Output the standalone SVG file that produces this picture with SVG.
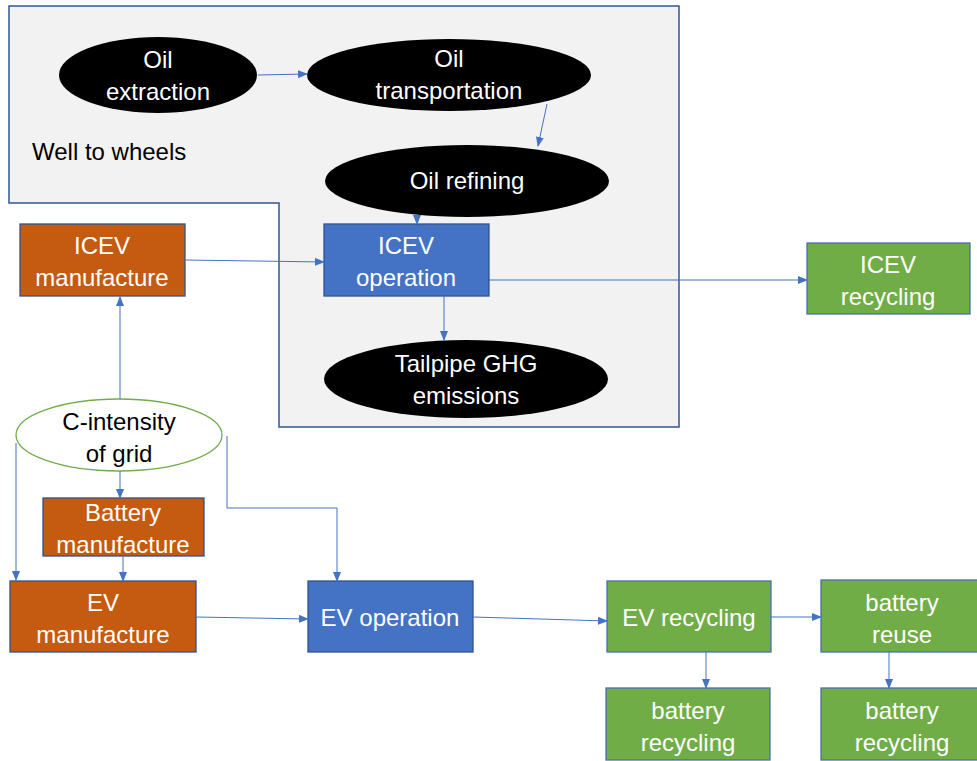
<svg xmlns="http://www.w3.org/2000/svg" width="977" height="761" viewBox="0 0 977 761">
<defs>
<marker id="ah" markerWidth="10" markerHeight="8" refX="9" refY="4" orient="auto" markerUnits="userSpaceOnUse">
<path d="M0,0 L10,4 L0,8 Z" fill="#4472c4"/>
</marker>
<style>
text{font-family:"Liberation Sans",Arial,sans-serif;font-size:24px;text-anchor:middle}
.w{fill:#ffffff}
.k{fill:#000000}
.orange{fill:#c55a11;stroke:#2f528f;stroke-width:1.3}
.blue{fill:#4472c4;stroke:#2f528f;stroke-width:1.3}
.green{fill:#70ad47;stroke:#4a6fb0;stroke-width:1.3}
.oval{fill:#000000}
.conn line,.conn polyline{stroke:#4472c4;stroke-width:1;fill:none;marker-end:url(#ah)}
</style>
</defs>
<rect width="977" height="761" fill="#ffffff"/>
<g id="well-to-wheels">
<polygon points="9,6 679,6 679,427 279,427 279,203 9,203" fill="#f2f2f2" stroke="#2f5597" stroke-width="1.5"/>
<text x="32" y="160" class="k" style="text-anchor:start">Well to wheels</text>
</g>
<g id="oil-extraction">
<ellipse cx="158" cy="75" rx="99" ry="38" class="oval"/>
<text x="158" y="68" class="w">Oil</text>
<text x="158" y="100" class="w">extraction</text>
</g>
<g id="oil-transportation">
<ellipse cx="449" cy="75" rx="142" ry="36" class="oval"/>
<text x="449" y="67" class="w">Oil</text>
<text x="449" y="99" class="w">transportation</text>
</g>
<g id="oil-refining">
<ellipse cx="467" cy="181" rx="142" ry="36" class="oval"/>
<text x="467" y="189" class="w">Oil refining</text>
</g>
<g id="tailpipe">
<ellipse cx="466" cy="379" rx="142" ry="39" class="oval"/>
<text x="466" y="372" class="w">Tailpipe GHG</text>
<text x="466" y="404" class="w">emissions</text>
</g>
<g id="icev-manufacture">
<rect x="20" y="224" width="165" height="72" class="orange"/>
<text x="102" y="254" class="w">ICEV</text>
<text x="102" y="286" class="w">manufacture</text>
</g>
<g id="icev-operation">
<rect x="324" y="224" width="165" height="72" class="blue"/>
<text x="406" y="254" class="w">ICEV</text>
<text x="406" y="286" class="w">operation</text>
</g>
<g id="icev-recycling">
<rect x="807" y="243" width="163" height="71" class="green"/>
<text x="888" y="273" class="w">ICEV</text>
<text x="888" y="305" class="w">recycling</text>
</g>
<g id="c-intensity">
<ellipse cx="119" cy="435" rx="103" ry="36" fill="#ffffff" stroke="#70ad47" stroke-width="1.3"/>
<text x="119" y="430" class="k">C-intensity</text>
<text x="119" y="462" class="k">of grid</text>
</g>
<g id="battery-manufacture">
<rect x="43" y="498" width="161" height="58" class="orange"/>
<text x="123" y="521" class="w">Battery</text>
<text x="123" y="553" class="w">manufacture</text>
</g>
<g id="ev-manufacture">
<rect x="10" y="581" width="186" height="71" class="orange"/>
<text x="103" y="611" class="w">EV</text>
<text x="103" y="643" class="w">manufacture</text>
</g>
<g id="ev-operation">
<rect x="308" y="581" width="165" height="71" class="blue"/>
<text x="390" y="626" class="w">EV operation</text>
</g>
<g id="ev-recycling">
<rect x="607" y="581" width="164" height="71" class="green"/>
<text x="689" y="626" class="w">EV recycling</text>
</g>
<g id="battery-reuse">
<rect x="821" y="580" width="160" height="72" class="green"/>
<text x="902" y="611" class="w">battery</text>
<text x="902" y="643" class="w">reuse</text>
</g>
<g id="battery-recycling-1">
<rect x="606" y="688" width="164" height="72" class="green"/>
<text x="688" y="719" class="w">battery</text>
<text x="688" y="751" class="w">recycling</text>
</g>
<g id="battery-recycling-2">
<rect x="821" y="688" width="160" height="72" class="green"/>
<text x="902" y="719" class="w">battery</text>
<text x="902" y="751" class="w">recycling</text>
</g>
<g id="connectors" class="conn">
<line x1="258" y1="75" x2="307" y2="74"/>
<line x1="547" y1="104" x2="538" y2="146"/>
<line x1="417" y1="217" x2="417" y2="224"/>
<line x1="185" y1="260" x2="324" y2="262"/>
<line x1="489" y1="280" x2="807" y2="280"/>
<line x1="444" y1="296" x2="444" y2="340"/>
<line x1="120" y1="399" x2="120" y2="297"/>
<polyline points="16,443 16,580"/>
<line x1="120" y1="471" x2="120" y2="498"/>
<polyline points="227,436 227,508 337,508 337,581"/>
<line x1="123" y1="556" x2="123" y2="581"/>
<line x1="196" y1="617" x2="308" y2="619"/>
<line x1="473" y1="617" x2="607" y2="621"/>
<line x1="771" y1="617" x2="821" y2="617"/>
<line x1="706" y1="652" x2="706" y2="688"/>
<line x1="889" y1="652" x2="889" y2="688"/>
</g>
</svg>
